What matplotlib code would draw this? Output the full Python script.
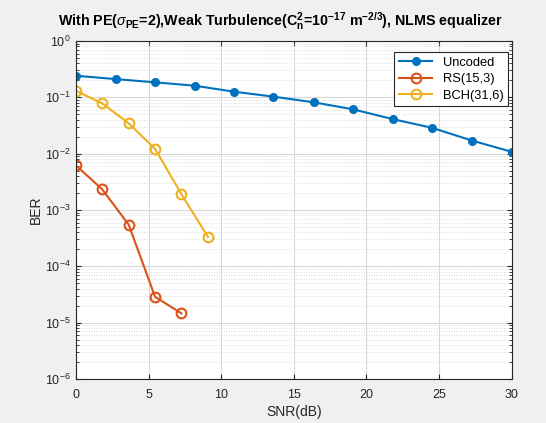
import numpy as np
import matplotlib
matplotlib.use("Agg")
import matplotlib.pyplot as plt

plt.rcParams["font.family"] = ["Liberation Sans", "DejaVu Sans"]
plt.rcParams["mathtext.fontset"] = "custom"
plt.rcParams["mathtext.rm"] = "Liberation Sans"
plt.rcParams["mathtext.it"] = "Liberation Sans:italic"
plt.rcParams["mathtext.bf"] = "Liberation Sans:bold"

# data
snr_uncoded = [0, 2.73, 5.45, 8.18, 10.9, 13.6, 16.4, 19.1, 21.8, 24.5, 27.3, 30]
ber_uncoded = [0.242, 0.211, 0.185, 0.161, 0.126, 0.103, 0.0815, 0.0612,
               0.0412, 0.0289, 0.0170, 0.0108]
snr_rs = [0, 1.82, 3.64, 5.45, 7.27]
ber_rs = [0.0062, 0.00232, 0.000546, 2.88e-5, 1.46e-5]
snr_bch = [0, 1.82, 3.64, 5.45, 7.27, 9.09]
ber_bch = [0.131, 0.078, 0.0345, 0.0122, 0.0019, 0.000334]

c_blue = "#0072BD"
c_orange = "#D95319"
c_yellow = "#EDB120"

fig = plt.figure(figsize=(5.46, 4.23), dpi=100, facecolor="#f0f0f0")
ax = fig.add_axes([0.139, 0.104, 0.798, 0.799])

ax.semilogy(snr_uncoded, ber_uncoded, "-o", color=c_blue, lw=1.5, ms=5.5,
            mfc=c_blue, label="Uncoded")
ax.semilogy(snr_rs, ber_rs, "-o", color=c_orange, lw=1.5, ms=7,
            mfc="none", mew=1.5, label="RS(15,3)")
ax.semilogy(snr_bch, ber_bch, "-o", color=c_yellow, lw=1.5, ms=7,
            mfc="none", mew=1.5, label="BCH(31,6)")

ax.set_xlim(0, 30)
ax.set_ylim(1e-6, 1)
ax.set_xticks([0, 5, 10, 15, 20, 25, 30])
ax.set_yticks([10.0 ** k for k in range(-6, 1)])

ax.grid(True, which="major", color="#d9d9d9", lw=0.8)
ax.yaxis.grid(True, which="minor", color="#cfcfcf", lw=0.6, ls=(0, (1, 2)))
ax.tick_params(which="both", direction="in", top=True, right=True,
               labelsize=9, colors="#262626")
ax.tick_params(axis="x", pad=7)
for s in ax.spines.values():
    s.set_color("#262626")
    s.set_linewidth(0.8)

ax.set_xlabel("SNR(dB)", fontsize=10, color="#262626", labelpad=3)
ax.set_ylabel("BER", fontsize=10, color="#262626", labelpad=2)
ax.set_title(r"With PE($\mathit{\sigma}_{\mathbf{PE}}$=2),Weak Turbulence(C$_\mathbf{n}^\mathbf{2}$=10$^\mathbf{-17}$ m$^\mathbf{-2/3}$), NLMS equalizer",
             fontsize=10.3, fontweight="bold", color="#000000", pad=11, x=0.468)

leg = ax.legend(loc="upper right", bbox_to_anchor=(0.9915, 0.967),
                borderaxespad=0, fontsize=9.3, fancybox=False,
                framealpha=1, edgecolor="#262626",
                handlelength=2.6, labelspacing=0.35, borderpad=0.35)
leg.get_frame().set_linewidth(0.8)

fig.savefig("out.png", dpi=100, facecolor=fig.get_facecolor())
